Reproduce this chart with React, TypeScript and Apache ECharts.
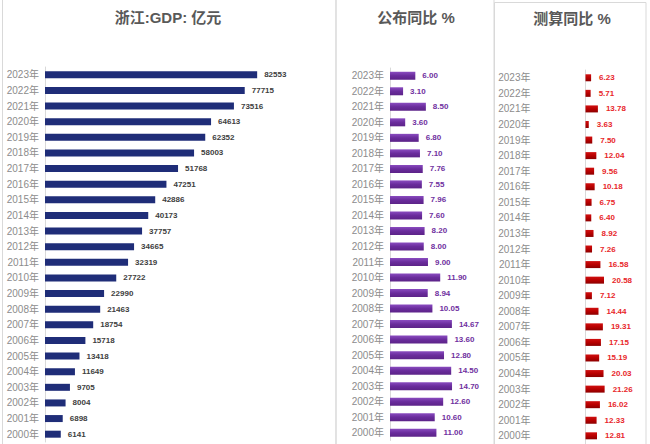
import React, { useEffect, useRef } from "react";
import * as echarts from "echarts";

const years = [
  "2000年", "2001年", "2002年", "2003年", "2004年", "2005年", "2006年", "2007年",
  "2008年", "2009年", "2010年", "2011年", "2012年", "2013年", "2014年", "2015年",
  "2016年", "2017年", "2018年", "2019年", "2020年", "2021年", "2022年", "2023年",
];
const gdp = [
  6141, 6898, 8004, 9705, 11649, 13418, 15718, 18754, 21463, 22990, 27722, 32319,
  34665, 37757, 40173, 42886, 47251, 51768, 58003, 62352, 64613, 73516, 77715, 82553,
];
const published = [
  11.0, 10.6, 12.6, 14.7, 14.5, 12.8, 13.6, 14.67, 10.05, 8.94, 11.9, 9.0,
  8.0, 8.2, 7.6, 7.96, 7.55, 7.76, 7.1, 6.8, 3.6, 8.5, 3.1, 6.0,
];
const calculated = [
  12.81, 12.33, 16.02, 21.26, 20.03, 15.19, 17.15, 19.31, 14.44, 7.12, 20.58, 16.58,
  7.26, 8.92, 6.4, 6.75, 10.18, 9.56, 12.04, 7.5, 3.63, 13.78, 5.71, 6.23,
];
const titles = ["浙江:GDP: 亿元", "公布同比 %", "测算同比 %"];

const FONT = "'Liberation Sans', 'Noto Sans CJK SC', sans-serif";

export default function App() {
  const ref = useRef<HTMLDivElement>(null);
  useEffect(() => {
    document.body.style.margin = "0";
    const chart = echarts.init(ref.current!, undefined, { renderer: "svg" });
    const yLabel = (margin: number) => ({
      color: "#8c8c8c",
      fontSize: 10,
      fontFamily: FONT,
      margin,
    });
    const yAxisBase = {
      type: "category" as const,
      data: years,
      axisTick: { show: false },
      axisLine: { lineStyle: { color: "#d9d9d9", width: 1 } },
    };
    const xAxisBase = {
      type: "value" as const,
      min: 0,
      show: false,
      splitLine: { show: false },
    };
    const labelBase = {
      show: true,
      position: "right" as const,
      distance: 7,
      fontSize: 8,
      fontWeight: "bold" as const,
      fontFamily: FONT,
    };
    chart.setOption({
      animation: false,
      backgroundColor: "#ffffff",
      graphic: [
        { type: "rect", shape: { x: 2.5, y: -5, width: 333.5, height: 460 }, style: { fill: "none", stroke: "#d9d9d9", lineWidth: 1 }, silent: true },
        { type: "rect", shape: { x: 336, y: -5, width: 158, height: 460 }, style: { fill: "none", stroke: "#d9d9d9", lineWidth: 1 }, silent: true },
        { type: "rect", shape: { x: 494.5, y: 2.5, width: 151.5, height: 460 }, style: { fill: "none", stroke: "#d9d9d9", lineWidth: 1 }, silent: true },
        { type: "text", x: 168, y: 17, style: { text: titles[0], fill: "#595959", font: `bold 15px ${FONT}`, textAlign: "center", textVerticalAlign: "middle" } },
        { type: "text", x: 416, y: 17, style: { text: titles[1], fill: "#595959", font: `bold 15px ${FONT}`, textAlign: "center", textVerticalAlign: "middle" } },
        { type: "text", x: 572, y: 18, style: { text: titles[2], fill: "#595959", font: `bold 15px ${FONT}`, textAlign: "center", textVerticalAlign: "middle" } },
      ],
      grid: [
        { left: 45, top: 67, width: 257, height: 375 },
        { left: 390, top: 68, width: 84.4, height: 372.5 },
        { left: 585.5, top: 70, width: 27, height: 373.6 },
      ],
      xAxis: [
        { ...xAxisBase, gridIndex: 0, max: 100000 },
        { ...xAxisBase, gridIndex: 1, max: 20 },
        { ...xAxisBase, gridIndex: 2, max: 30 },
      ],
      yAxis: [
        { ...yAxisBase, gridIndex: 0, axisLabel: yLabel(6) },
        { ...yAxisBase, gridIndex: 1, axisLabel: yLabel(6) },
        { ...yAxisBase, gridIndex: 2, axisLabel: yLabel(55) },
      ],
      series: [
        {
          type: "bar",
          xAxisIndex: 0,
          yAxisIndex: 0,
          data: gdp,
          barWidth: 7,
          itemStyle: { color: "#1f2d78" },
          label: { ...labelBase, color: "#404040" },
        },
        {
          type: "bar",
          xAxisIndex: 1,
          yAxisIndex: 1,
          data: published,
          barWidth: 8,
          itemStyle: {
            color: new echarts.graphic.LinearGradient(0, 0, 0, 1, [
              { offset: 0, color: "#8a4cc0" },
              { offset: 0.5, color: "#6a2c9c" },
              { offset: 1, color: "#5c2388" },
            ]),
          },
          label: { ...labelBase, color: "#7030a0", formatter: (p: any) => Number(p.value).toFixed(2) },
        },
        {
          type: "bar",
          xAxisIndex: 2,
          yAxisIndex: 2,
          data: calculated,
          barWidth: 7,
          itemStyle: {
            color: new echarts.graphic.LinearGradient(0, 0, 0, 1, [
              { offset: 0, color: "#d01010" },
              { offset: 0.5, color: "#b80000" },
              { offset: 1, color: "#8c0000" },
            ]),
          },
          label: { ...labelBase, distance: 8, color: "#e8262a", formatter: (p: any) => Number(p.value).toFixed(2) },
        },
      ],
    });
    return () => chart.dispose();
  }, []);
  return <div ref={ref} style={{ width: 650, height: 444 }} />;
}
